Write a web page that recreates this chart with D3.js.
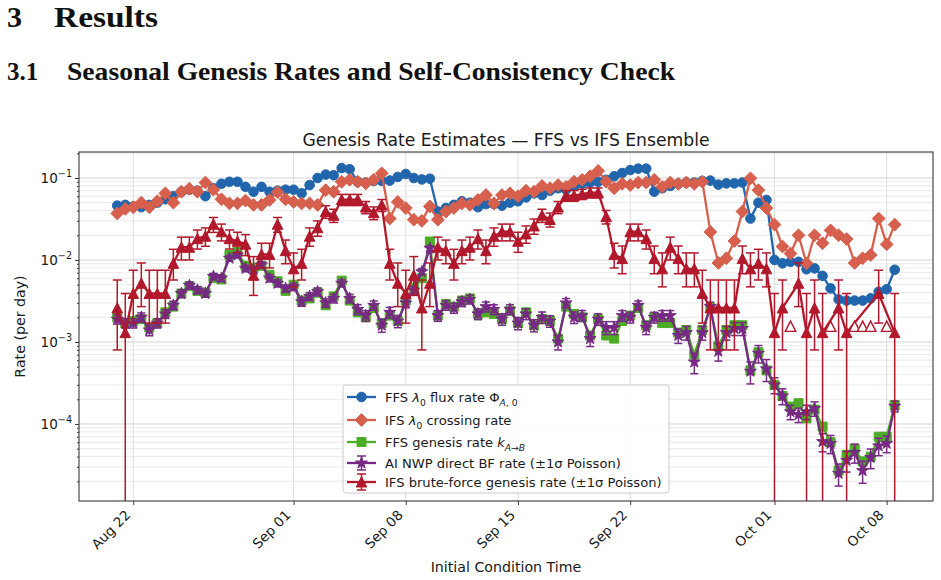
<!DOCTYPE html>
<html>
<head>
<meta charset="utf-8">
<title>Genesis Rate Estimates</title>
<script src="https://cdn.jsdelivr.net/npm/d3@7/dist/d3.min.js"></script>
<style>
  html, body { margin: 0; padding: 0; background: #fff; }
  svg { display: block; }
  .sans { font-family: "DejaVu Sans", sans-serif; fill: #1a1a1a; }
  .serif { font-family: "Liberation Serif", "DejaVu Serif", serif; font-weight: bold; fill: #111; }
</style>
</head>
<body>
<svg id="page" width="941" height="580"></svg>
<script>
"use strict";

// initial condition times: every 12 h, 21 Aug 00Z .. 8 Oct 12Z
const times = d3.utcHour.range(new Date(Date.UTC(2024, 7, 21)), new Date(Date.UTC(2024, 9, 8, 13)), 12);

const xTickDates = ["2024-08-22", "2024-09-01", "2024-09-08", "2024-09-15", "2024-09-22", "2024-10-01", "2024-10-08"];
const yTickExp = [-4, -3, -2, -1];

// FFS lambda0 flux rate
const ffsFlux = [0.046,0.047,0.045,0.044,0.047,0.050,0.055,0.060,0.068,0.072,
  0.070,0.060,0.075,0.085,0.090,0.090,0.078,0.068,0.078,0.068,
  0.070,0.072,0.072,0.065,0.082,0.100,0.110,0.108,0.132,0.128,
  0.090,0.088,0.092,0.092,0.093,0.103,0.112,0.100,0.096,0.098,
  0.039,0.043,0.047,0.052,0.050,0.044,0.048,0.048,0.046,0.050,
  0.052,0.058,0.065,0.062,0.070,0.075,0.072,0.080,0.085,0.088,
  0.090,0.095,0.105,0.115,0.125,0.130,0.130,0.068,0.075,0.080,
  0.085,0.088,0.088,0.092,0.093,0.083,0.086,0.086,0.088,0.032,
  0.050,0.054,0.010,0.0091,0.0095,0.0095,0.0077,0.0079,0.0064,0.0045,
  0.0033,0.0032,0.0032,0.0032,0.0034,0.0041,0.0044,0.0076];

// IFS lambda0 crossing rate
const ifsCross = [0.037,0.042,0.044,0.050,0.044,0.052,0.065,0.050,0.068,0.074,
  0.068,0.088,0.072,0.055,0.049,0.049,0.053,0.047,0.047,0.054,
  0.067,0.055,0.051,0.049,0.049,0.047,0.071,0.068,0.090,0.095,
  0.090,0.086,0.095,0.114,0.032,0.051,0.043,0.031,0.030,0.045,
  0.031,0.039,0.043,0.049,0.047,0.054,0.062,0.049,0.062,0.065,
  0.060,0.070,0.068,0.080,0.075,0.082,0.078,0.090,0.095,0.105,
  0.122,0.090,0.075,0.085,0.082,0.088,0.088,0.095,0.078,0.088,
  0.085,0.088,0.085,0.090,0.022,0.0092,0.0105,0.017,0.039,0.099,
  0.071,0.043,0.027,0.0146,0.012,0.020,0.0091,0.020,0.016,0.023,
  0.020,0.018,0.0092,0.0105,0.0115,0.032,0.0155,0.027];

// FFS genesis rate k_{A->B}
const ffsGenesis = [0.0020,0.0017,0.0018,0.0019,0.0015,0.0017,0.0023,0.0027,0.0039,0.0048,
  0.0042,0.0040,0.0060,0.0058,0.0115,0.0125,0.0085,0.0080,0.0085,0.0066,
  0.0055,0.0042,0.0050,0.0032,0.0034,0.0040,0.0028,0.0036,0.0056,0.0032,
  0.0023,0.0020,0.0026,0.0017,0.0021,0.0018,0.0032,0.0046,0.0060,0.0168,
  0.0021,0.0029,0.0027,0.0032,0.0034,0.0022,0.0023,0.0022,0.0019,0.0024,
  0.0017,0.0023,0.0016,0.0019,0.0018,0.0011,0.0027,0.0022,0.0020,0.0012,
  0.0019,0.0012,0.0011,0.0018,0.0021,0.0026,0.0016,0.0020,0.0017,0.0017,
  0.0013,0.0014,0.0007,0.0014,0.0026,0.0009,0.0014,0.0016,0.0016,0.00045,
  0.00075,0.00045,0.00030,0.00022,0.000163,0.000179,0.000117,0.00015,0.000093,0.00006,
  0.000027,0.000042,0.00005,0.000035,0.00004,0.00007,0.00007,0.00017];

// AI NWP direct brute-force rate and its relative 1-sigma error
const aiBf = [0.0019,0.0017,0.0017,0.0020,0.0014,0.0017,0.0022,0.0028,0.0039,0.0049,
  0.0043,0.0039,0.0063,0.0060,0.0105,0.0115,0.0079,0.0076,0.0087,0.0060,
  0.0052,0.0045,0.0047,0.0031,0.0036,0.0041,0.0030,0.0034,0.0052,0.0034,
  0.0025,0.0021,0.0028,0.0016,0.0023,0.0018,0.0030,0.0043,0.0072,0.0139,
  0.0021,0.0028,0.0026,0.0031,0.0033,0.0022,0.0027,0.0025,0.0019,0.0025,
  0.0017,0.0022,0.0016,0.0020,0.0018,0.0010,0.0030,0.0020,0.0021,0.0011,
  0.0019,0.0015,0.0015,0.0021,0.0020,0.0028,0.0015,0.0020,0.0021,0.0021,
  0.0012,0.0013,0.00057,0.0013,0.0027,0.00077,0.0013,0.00146,0.00146,0.00044,
  0.00073,0.00047,0.00030,0.00022,0.000141,0.00013,0.000141,0.000155,0.000061,0.000058,
  0.000025,0.000036,0.000045,0.000027,0.000039,0.000054,0.000058,0.000165];
const aiBfRelErr = [0.13,0.13,0.13,0.13,0.15,0.13,0.12,0.12,0.11,0.10,
  0.10,0.10,0.09,0.09,0.08,0.08,0.09,0.09,0.09,0.10,
  0.10,0.10,0.10,0.12,0.11,0.11,0.12,0.12,0.10,0.12,
  0.14,0.15,0.13,0.18,0.15,0.17,0.13,0.11,0.09,0.07,
  0.15,0.13,0.14,0.13,0.12,0.15,0.14,0.14,0.16,0.14,
  0.17,0.15,0.17,0.16,0.16,0.20,0.13,0.16,0.15,0.20,
  0.16,0.18,0.18,0.15,0.15,0.13,0.18,0.15,0.15,0.15,
  0.20,0.19,0.28,0.19,0.13,0.24,0.19,0.18,0.18,0.30,
  0.24,0.30,0.22,0.22,0.20,0.20,0.20,0.20,0.25,0.25,
  0.30,0.28,0.26,0.30,0.27,0.24,0.23,0.15];

// IFS brute-force genesis rate (0 = no event that day) with error bar ends
const ifsBf = [0.0026,0.0013,0.0039,0.0052,0.0039,0.0039,0.0039,0.0091,0.0143,0.0143,
  0.0182,0.0195,0.0273,0.0221,0.0182,0.0169,0.0156,0.0065,0.0117,0.0117,
  0.0273,0.013,0.0078,0.0091,0.0195,0.0247,0.039,0.0351,0.0546,0.0546,
  0.0546,0.0442,0.0377,0.0468,0.0091,0.0052,0.0039,0.0065,0.0026,0.0052,
  0.0143,0.013,0.0091,0.013,0.0143,0.0182,0.013,0.0195,0.0221,0.0221,
  0.0169,0.0208,0.026,0.0351,0.0312,0.0442,0.0611,0.0611,0.0637,0.0663,
  0.0663,0.0338,0.0117,0.0104,0.0221,0.0221,0.0182,0.0104,0.0078,0.0143,
  0.0104,0.0078,0.0078,0.0039,0.0026,0.0026,0.0026,0.0026,0.0104,0.0078,
  0.0091,0.0078,0.0013,0.0026,0,0.0052,0.0013,0.0026,0.0013,0,
  0.0026,0.0013,0,0,0,0.0039,0,0.0013];
const ifsBfLo = [0.0008,0,0.0017,0.0027,0.0017,0.0017,0.0017,0.0057,0.010,0.010,
  0.0136,0.0147,0.0217,0.0171,0.0136,0.0124,0.0113,0.0037,0.008,0.008,
  0.0217,0.009,0.0047,0.0057,0.0147,0.0195,0.0322,0.0287,0.0461,0.0461,
  0.0461,0.0367,0.031,0.039,0.0057,0.0027,0.0017,0.0037,0.0008,0.0027,
  0.010,0.009,0.0057,0.009,0.010,0.0136,0.009,0.0147,0.0171,0.0171,
  0.0124,0.016,0.0206,0.0287,0.0252,0.0367,0.052,0.052,0.0546,0.057,
  0.057,0.0275,0.008,0.0068,0.0171,0.0171,0.0136,0.0068,0.0047,0.010,
  0.0068,0.0047,0.0047,0.0017,0.0008,0.0008,0.0008,0.0008,0.0068,0.0047,
  0.0057,0.0047,0,0.0008,0,0.0027,0,0.0008,0,0,
  0.0008,0,0,0,0,0.0017,0,0];
const ifsBfHi = [0.0057,0.0039,0.0075,0.0092,0.0075,0.0075,0.0075,0.0135,0.019,0.019,
  0.0232,0.0246,0.033,0.0274,0.0232,0.0218,0.0204,0.011,0.016,0.016,
  0.033,0.0175,0.0122,0.0135,0.0246,0.030,0.0458,0.0416,0.0631,0.0631,
  0.0631,0.0517,0.0444,0.0546,0.0135,0.0092,0.0075,0.011,0.0057,0.0092,
  0.019,0.0175,0.0135,0.0175,0.019,0.0232,0.0175,0.0246,0.0274,0.0274,
  0.0218,0.026,0.0316,0.0416,0.0374,0.0517,0.0702,0.0702,0.0728,0.0756,
  0.0756,0.0402,0.016,0.0148,0.0274,0.0274,0.0232,0.0148,0.0122,0.019,
  0.0148,0.0122,0.0122,0.0075,0.0057,0.0057,0.0057,0.0057,0.0148,0.0122,
  0.0135,0.0122,0.0039,0.0057,0,0.0092,0.0039,0.0057,0.0039,0,
  0.0057,0.0039,0,0,0,0.0075,0,0.0039];
const ifsZeroLevel = 0.00155; // open markers for days without an event

const colors = {blue: "#2166ac", orange: "#d6604d", green: "#4dac26", purple: "#762a83", red: "#b2182b"};

const svg = d3.select("#page");
svg.append("rect").attr("width", 941).attr("height", 580).attr("fill", "#fff");

// ---- page headings
const h1 = svg.append("g").attr("class", "serif");
h1.append("text").attr("x", 7).attr("y", 27).attr("font-size", 30).text("3");
h1.append("text").attr("x", 54).attr("y", 27).attr("font-size", 30)
  .attr("textLength", 104).attr("lengthAdjust", "spacingAndGlyphs").text("Results");
const h2 = svg.append("g").attr("class", "serif");
h2.append("text").attr("x", 7).attr("y", 80).attr("font-size", 25).text("3.1");
h2.append("text").attr("x", 67).attr("y", 80).attr("font-size", 25)
  .attr("textLength", 608).attr("lengthAdjust", "spacingAndGlyphs")
  .text("Seasonal Genesis Rates and Self-Consistency Check");

// ---- axes frame
const plot = {left: 79, right: 933, top: 152, bottom: 501};
const x = d3.scaleUtc()
  .domain([new Date(Date.UTC(2024, 7, 18, 14, 43)), new Date(Date.UTC(2024, 9, 10, 21, 21))])
  .range([plot.left, plot.right]);
const y = d3.scaleLog().domain([1.15e-5, 0.2075]).range([plot.bottom, plot.top]);
const xTicks = xTickDates.map(d => new Date(d + "T00:00:00Z"));

svg.append("defs").append("clipPath").attr("id", "clip").append("rect")
  .attr("x", plot.left).attr("y", plot.top)
  .attr("width", plot.right - plot.left).attr("height", plot.bottom - plot.top);

// grid
const grid = svg.append("g");
y.ticks().forEach(v => {
  const major = Math.abs(Math.log10(v) - Math.round(Math.log10(v))) < 1e-6;
  grid.append("line").attr("x1", plot.left).attr("x2", plot.right)
    .attr("y1", y(v)).attr("y2", y(v))
    .attr("stroke", major ? "#d4d4d4" : "#e4e4e4").attr("stroke-width", major ? 1 : 0.8);
});
xTicks.forEach(d => {
  grid.append("line").attr("y1", plot.top).attr("y2", plot.bottom)
    .attr("x1", x(d)).attr("x2", x(d)).attr("stroke", "#dedede").attr("stroke-width", 1);
});

// ---- markers
const markers = {
  circle: d3.symbol(d3.symbolCircle, Math.PI * 4.8 * 4.8)(),
  diamond: "M0,-6.4L6.4,0L0,6.4L-6.4,0Z",
  square: "M-4.5,-4.5h9v9h-9Z",
  star: d3.symbol(d3.symbolStar, 44)(),
  triangle: "M0,-5.3L5.3,5L-5.3,5Z"
};

const layer = svg.append("g").attr("clip-path", "url(#clip)");

function drawSeries(vals, color, marker, errFn) {
  const pts = vals.map((v, i) => ({t: times[i], v, i})).filter(p => p.v > 0);
  const g = layer.append("g");
  if (errFn) {
    pts.forEach(p => {
      const [lo, hi, cap] = errFn(p);
      const yl = lo > 0 ? y(lo) : plot.bottom + 10;
      const cx = x(p.t);
      g.append("line").attr("x1", cx).attr("x2", cx).attr("y1", y(hi)).attr("y2", yl)
        .attr("stroke", color).attr("stroke-width", 1.5);
      g.append("line").attr("x1", cx - cap).attr("x2", cx + cap).attr("y1", y(hi)).attr("y2", y(hi))
        .attr("stroke", color).attr("stroke-width", 1.5);
      if (lo > 0) g.append("line").attr("x1", cx - cap).attr("x2", cx + cap).attr("y1", yl).attr("y2", yl)
        .attr("stroke", color).attr("stroke-width", 1.5);
    });
  }
  g.append("path").datum(pts)
    .attr("d", d3.line().x(p => x(p.t)).y(p => y(p.v)))
    .attr("fill", "none").attr("stroke", color).attr("stroke-width", 2.3).attr("stroke-linejoin", "round");
  g.selectAll("path.m").data(pts).join("path").attr("class", "m")
    .attr("transform", p => `translate(${x(p.t)},${y(p.v)})`)
    .attr("d", markers[marker]).attr("fill", color).attr("stroke", color).attr("stroke-width", 1);
}

drawSeries(ffsFlux, colors.blue, "circle");
drawSeries(ifsCross, colors.orange, "diamond");
drawSeries(ffsGenesis, colors.green, "square");
drawSeries(aiBf, colors.purple, "star", p => [p.v * (1 - aiBfRelErr[p.i]), p.v * (1 + aiBfRelErr[p.i]), 4]);
drawSeries(ifsBf, colors.red, "triangle", p => [ifsBfLo[p.i], ifsBfHi[p.i], 4.5]);

// open triangles where the IFS ensemble had no event
layer.append("g").selectAll("path")
  .data(ifsBf.map((v, i) => ({v, i})).filter(p => p.v === 0))
  .join("path")
  .attr("transform", p => `translate(${x(times[p.i])},${y(ifsZeroLevel)})`)
  .attr("d", markers.triangle).attr("fill", "#fff").attr("stroke", colors.red).attr("stroke-width", 1.4);

// ---- spines and ticks
svg.append("rect").attr("x", plot.left).attr("y", plot.top)
  .attr("width", plot.right - plot.left).attr("height", plot.bottom - plot.top)
  .attr("fill", "none").attr("stroke", "#3a3a3a").attr("stroke-width", 1.1);

const xAxis = svg.append("g").attr("transform", `translate(0,${plot.bottom})`)
  .call(d3.axisBottom(x).tickValues(xTicks).tickSize(4).tickFormat(""));
xAxis.select(".domain").remove();
xAxis.selectAll("line").attr("stroke", "#3a3a3a");
const fmt = d3.utcFormat("%b %d");
xTicks.forEach(d => {
  svg.append("text").attr("class", "sans").attr("font-size", 13.6)
    .attr("text-anchor", "end")
    .attr("transform", `translate(${x(d) - 2},${plot.bottom + 15}) rotate(-45)`)
    .text(fmt(d));
});

const yMinor = svg.append("g").attr("transform", `translate(${plot.left},0)`)
  .call(d3.axisLeft(y).tickValues(y.ticks()).tickSize(2).tickFormat(""));
yMinor.select(".domain").remove();
yMinor.selectAll("line").attr("stroke", "#3a3a3a");
const yMajor = svg.append("g").attr("transform", `translate(${plot.left},0)`)
  .call(d3.axisLeft(y).tickValues(yTickExp.map(e => Math.pow(10, e))).tickSize(4).tickFormat(""));
yMajor.select(".domain").remove();
yMajor.selectAll("line").attr("stroke", "#3a3a3a");
yTickExp.forEach(e => {
  const t = svg.append("text").attr("class", "sans").attr("font-size", 13.6)
    .attr("text-anchor", "end").attr("x", plot.left - 7).attr("y", y(Math.pow(10, e)) + 5);
  t.append("tspan").text("10");
  t.append("tspan").attr("font-size", 9.6).attr("dy", -6).text("\u2212" + Math.abs(e));
});

// ---- labels
svg.append("text").attr("class", "sans").attr("font-size", 17.2).attr("text-anchor", "middle")
  .attr("x", (plot.left + plot.right) / 2).attr("y", 146)
  .text("Genesis Rate Estimates \u2014 FFS vs IFS Ensemble");
svg.append("text").attr("class", "sans").attr("font-size", 14.2).attr("text-anchor", "middle")
  .attr("x", (plot.left + plot.right) / 2).attr("y", 572).text("Initial Condition Time");
svg.append("text").attr("class", "sans").attr("font-size", 14.2).attr("text-anchor", "middle")
  .attr("transform", `translate(25,${(plot.top + plot.bottom) / 2}) rotate(-90)`).text("Rate (per day)");

// ---- legend
const legendRows = [
  {color: colors.blue, marker: "circle", parts: [{t: "FFS "}, {t: "\u03bb", i: 1}, {t: "0", sub: 1}, {t: " flux rate \u03a6"}, {t: "A", i: 1, sub: 1}, {t: ", 0", sub: 1}]},
  {color: colors.orange, marker: "diamond", parts: [{t: "IFS "}, {t: "\u03bb", i: 1}, {t: "0", sub: 1}, {t: " crossing rate"}]},
  {color: colors.green, marker: "square", parts: [{t: "FFS genesis rate "}, {t: "k", i: 1}, {t: "A", i: 1, sub: 1}, {t: "\u2192", sub: 1}, {t: "B", i: 1, sub: 1}]},
  {color: colors.purple, marker: "star", err: 7, parts: [{t: "AI NWP direct BF rate (\u00b11\u03c3 Poisson)"}]},
  {color: colors.red, marker: "triangle", err: 8, parts: [{t: "IFS brute-force genesis rate (\u00b11\u03c3 Poisson)"}]}
];
const rowY = [397, 420, 442, 463, 482];
const legend = svg.append("g");
legend.append("rect").attr("x", 343).attr("y", 385).attr("width", 326).attr("height", 108).attr("rx", 3)
  .attr("fill", "#fff").attr("fill-opacity", 0.85).attr("stroke", "#cccccc").attr("stroke-width", 1);
legendRows.forEach((r, k) => {
  const cy = rowY[k];
  const g = legend.append("g");
  if (r.err) {
    g.append("line").attr("x1", 361.5).attr("x2", 361.5).attr("y1", cy - r.err).attr("y2", cy + r.err).attr("stroke", r.color).attr("stroke-width", 1.5);
    [cy - r.err, cy + r.err].forEach(yy => g.append("line").attr("x1", 357).attr("x2", 366).attr("y1", yy).attr("y2", yy).attr("stroke", r.color).attr("stroke-width", 1.5));
  }
  g.append("line").attr("x1", 347).attr("x2", 376).attr("y1", cy).attr("y2", cy).attr("stroke", r.color).attr("stroke-width", 2.3);
  g.append("path").attr("transform", `translate(361.5,${cy})`).attr("d", markers[r.marker])
    .attr("fill", r.color).attr("stroke", r.color);
  const t = g.append("text").attr("class", "sans").attr("font-size", 13.1).attr("x", 385).attr("y", cy + 5);
  let shift = 0;
  r.parts.forEach(p => {
    const want = p.sub ? 3.5 : 0;
    const s = t.append("tspan").text(p.t).attr("dy", want - shift);
    if (p.sub) s.attr("font-size", 9.2);
    if (p.i) s.attr("font-style", "italic");
    shift = want;
  });
});
</script>
</body>
</html>
